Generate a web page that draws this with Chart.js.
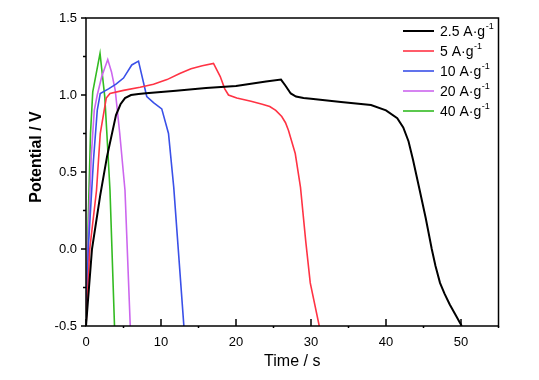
<!DOCTYPE html>
<html>
<head>
<meta charset="utf-8">
<script src="https://cdn.jsdelivr.net/npm/chart.js@4"></script>
<style>
  body { margin: 0; background: #fff; }
  canvas { display: block; }
</style>
</head>
<body>
<canvas id="gcd" width="539" height="380"></canvas>
<script>
// time (s) / potential (V), one pair per current density
const labels = ["2.5 A·g⁻¹", "5 A·g⁻¹", "10 A·g⁻¹", "20 A·g⁻¹", "40 A·g⁻¹"];
const colors = ["#000000", "#ff3344", "#3a50e8", "#cc66ee", "#33bb22"];

const t25 = [0, 0.8, 1.9, 2.8, 4, 4.6, 5.2, 6, 7, 8, 12, 16, 20, 24, 26, 26.6, 27.3, 28, 29, 30, 34, 38, 40, 41.5, 42.3, 43, 43.6, 44.5, 45.3, 46.1, 46.6, 47.2, 47.8, 48.5, 49.3, 50.1];
const v25 = [-0.5, 0, 0.35, 0.6, 0.87, 0.94, 0.98, 1.0, 1.007, 1.012, 1.028, 1.045, 1.058, 1.087, 1.1, 1.06, 1.01, 0.99, 0.98, 0.975, 0.955, 0.935, 0.9, 0.85, 0.79, 0.7, 0.58, 0.38, 0.2, 0.0, -0.11, -0.22, -0.29, -0.36, -0.43, -0.5];

const t5 = [0, 0.5, 1.4, 1.9, 2.7, 3.2, 5, 7.2, 9, 10.8, 12.5, 14, 15.5, 17, 17.9, 18.5, 19, 20.1, 22, 23.5, 24.5, 25.3, 26.1, 26.6, 27, 27.9, 28.6, 29.3, 29.9, 31.1];
const v5 = [-0.5, 0, 0.38, 0.75, 0.98, 1.01, 1.03, 1.05, 1.07, 1.1, 1.14, 1.17, 1.19, 1.205, 1.12, 1.04, 1.0, 0.98, 0.96, 0.94, 0.925, 0.9, 0.86, 0.82, 0.77, 0.62, 0.4, 0.05, -0.22, -0.5];

const t10 = [0, 0.3, 1.0, 1.5, 1.9, 3, 4, 5, 6.1, 7, 8.1, 9, 10.1, 11, 11.7, 13.05];
const v10 = [-0.5, 0, 0.58, 0.9, 1.01, 1.04, 1.07, 1.11, 1.195, 1.22, 0.99, 0.95, 0.91, 0.75, 0.4, -0.5];

const t20 = [0, 0.25, 0.7, 1.1, 1.5, 2.1, 2.9, 3.4, 3.9, 4.5, 5.2, 5.9];
const v20 = [-0.5, 0, 0.6, 0.9, 1.0, 1.12, 1.23, 1.15, 1.03, 0.75, 0.38, -0.5];

const t40 = [0, 0.3, 0.6, 0.9, 1.87, 2.5, 2.76, 3.2, 3.8];
const v40 = [-0.5, 0.2, 0.75, 1.02, 1.27, 0.99, 0.77, 0.38, -0.5];

const xTicks = [0, 10, 20, 30, 40, 50];
const yTicks = [-0.5, 0, 0.5, 1.0, 1.5];

const series = [[t25, v25], [t5, v5], [t10, v10], [t20, v20], [t40, v40]];
const FONT = "'Liberation Sans', Arial, sans-serif";

function pts(t, v) {
  return t.map((x, i) => ({ x: x, y: v[i] }));
}

// frame, inward ticks, legend and y title
const decor = {
  id: "decor",
  afterDraw(chart) {
    const ctx = chart.ctx;
    const a = chart.chartArea;
    const sx = chart.scales.x, sy = chart.scales.y;
    ctx.save();
    ctx.strokeStyle = "#000";
    ctx.lineWidth = 1.5;
    ctx.strokeRect(a.left, a.top, a.right - a.left, a.bottom - a.top);

    ctx.beginPath();
    for (let v = 0; v <= 55; v += 5) {
      const px = sx.getPixelForValue(v);
      if (v % 10 === 0) { ctx.moveTo(px, a.bottom); ctx.lineTo(px, a.bottom - 7); }
      else { ctx.moveTo(px, a.bottom); ctx.lineTo(px, a.bottom + 2); }
    }
    for (let v = -0.5; v <= 1.5001; v += 0.25) {
      const py = sy.getPixelForValue(v);
      const major = Math.abs(v * 2 - Math.round(v * 2)) < 1e-6;
      ctx.moveTo(a.left, py);
      ctx.lineTo(a.left - (major ? 5 : 3), py);
    }
    ctx.stroke();

    // legend
    ctx.textBaseline = "middle";
    chart.data.datasets.forEach((ds, i) => {
      const y = 31 + i * 20;
      ctx.strokeStyle = ds.borderColor;
      ctx.lineWidth = i === 0 ? 2 : 1.6;
      ctx.beginPath();
      ctx.moveTo(403, y);
      ctx.lineTo(434, y);
      ctx.stroke();
      const base = ds.label.replace("⁻¹", "");
      ctx.fillStyle = "#000";
      ctx.font = "14px " + FONT;
      ctx.fillText(base, 440, y + 1);
      const w = ctx.measureText(base).width;
      ctx.font = "9px " + FONT;
      ctx.fillText("-1", 440 + w + 0.5, y - 4);
    });

    // y axis title
    ctx.translate(37, 157);
    ctx.rotate(-Math.PI / 2);
    ctx.textAlign = "center";
    ctx.font = "bold 16px " + FONT;
    ctx.fillStyle = "#000";
    ctx.fillText("Potential / V", 0, 0);
    ctx.restore();
  }
};

new Chart("gcd", {
  type: "line",
  data: {
    datasets: series.map((s, i) => ({
      label: labels[i],
      data: pts(s[0], s[1]),
      borderColor: colors[i],
      borderWidth: i === 0 ? 2 : 1.6,
      pointRadius: 0,
      fill: false,
      tension: 0
    }))
  },
  options: {
    responsive: false,
    animation: false,
    devicePixelRatio: 1,
    layout: { padding: { left: 0, right: 40.5, top: 18, bottom: 0 } },
    plugins: {
      legend: { display: false },
      tooltip: { enabled: false }
    },
    scales: {
      x: {
        type: "linear",
        min: 0,
        max: 55,
        afterFit: (s) => { s.height = 54; },
        afterBuildTicks: (s) => { s.ticks = xTicks.map(v => ({ value: v })); },
        grid: { display: false, drawTicks: false },
        border: { display: false },
        ticks: { padding: 9, color: "#000", font: { size: 13, family: FONT } },
        title: {
          display: true,
          text: "Time / s",
          color: "#000",
          font: { size: 16, family: FONT },
          padding: { top: 0, bottom: 9 }
        }
      },
      y: {
        min: -0.5,
        max: 1.5,
        afterFit: (s) => { s.width = 86; },
        afterBuildTicks: (s) => { s.ticks = yTicks.map(v => ({ value: v })); },
        grid: { display: false, drawTicks: false },
        border: { display: false },
        ticks: {
          padding: 9,
          color: "#000",
          font: { size: 13, family: FONT },
          callback: (v) => v.toFixed(1)
        }
      }
    }
  },
  plugins: [decor]
});
</script>
</body>
</html>
